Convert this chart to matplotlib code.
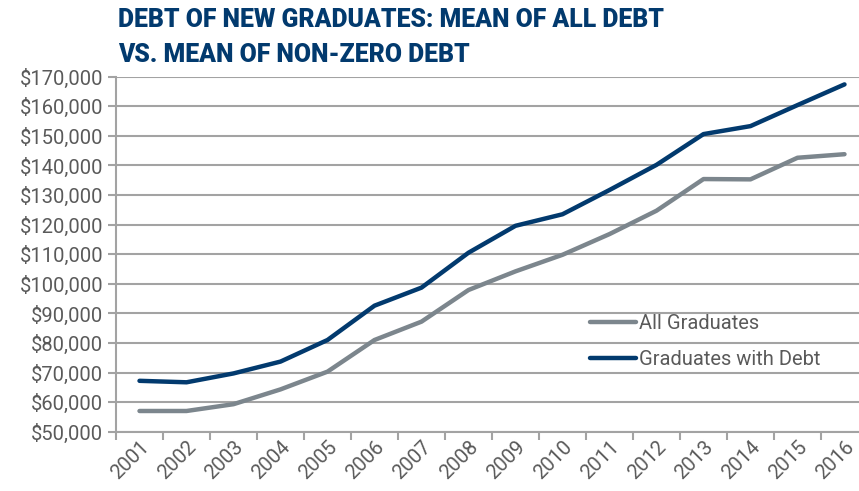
import matplotlib
matplotlib.use("Agg")
import matplotlib.pyplot as plt
from matplotlib.ticker import FuncFormatter, FixedLocator

years = ["2001", "2002", "2003", "2004", "2005", "2006", "2007", "2008",
         "2009", "2010", "2011", "2012", "2013", "2014", "2015", "2016"]
all_graduates = [57000, 57000, 59300, 64300, 70300, 81000, 87200, 97900,
                 104200, 109800, 116800, 124700, 135400, 135300, 142600, 143800]
with_debt = [67200, 66700, 69700, 73700, 81000, 92600, 98700, 110500,
             119600, 123500, 131700, 140200, 150600, 153300, 160400, 167400]
yticks = [50000, 60000, 70000, 80000, 90000, 100000, 110000, 120000,
          130000, 140000, 150000, 160000, 170000]

NAVY = "#023a6e"
GRAY = "#7c868d"
TXT = "#5a5a5a"
GRID = "#a3a3a3"

plt.rcParams['font.family'] = ['Roboto', 'DejaVu Sans']

fig = plt.figure(figsize=(8.59, 4.91), dpi=100)
ax = fig.add_axes([116/859, 1-431.7/491, 752/859, (431.7-76.7)/491])

x = list(range(len(years)))
ax.plot(x, all_graduates, color=GRAY, lw=3.2, solid_capstyle='round', label="All Graduates")
ax.plot(x, with_debt, color=NAVY, lw=3.2, solid_capstyle='round', label="Graduates with Debt")

ax.set_xlim(-0.5, len(years)-0.5)
ax.set_ylim(50000, 170000)
ax.set_yticks(yticks)
ax.yaxis.set_major_formatter(FuncFormatter(lambda v, p: "${:,.0f}".format(v)))
ax.grid(axis='y', color=GRID, lw=1.5)
ax.set_axisbelow(True)

ax.xaxis.set_major_locator(FixedLocator([i - 0.5 for i in range(len(years)+1)]))
ax.xaxis.set_major_formatter(FuncFormatter(lambda v, p: ""))
ax.xaxis.set_minor_locator(FixedLocator(x))
ax.set_xticklabels(years, minor=True)
ax.tick_params(axis='x', which='major', length=6, width=1.5, color=GRID, direction='out')
ax.tick_params(axis='x', which='minor', length=0, pad=4, labelsize=14.5, labelcolor=TXT)
for lbl in ax.get_xticklabels(minor=True):
    lbl.set_rotation(45)
    lbl.set_ha('right')
    lbl.set_rotation_mode('anchor')
ax.tick_params(axis='y', length=6, width=1.5, color=GRID, labelsize=14.5, labelcolor=TXT, pad=3)

for s in ['top', 'right']:
    ax.spines[s].set_visible(False)
for s in ['left', 'bottom']:
    ax.spines[s].set_color(GRID)
    ax.spines[s].set_linewidth(1.5)

leg = ax.legend(loc='upper left', bbox_to_anchor=((582-116)/752, 1-(306-76.7)/355),
                frameon=False, fontsize=14.5, handlelength=2.3, handletextpad=0.15,
                labelspacing=0.85, borderaxespad=0)
for t in leg.get_texts():
    t.set_color(TXT)

fig.text(118/859, 1-20/491, "DEBT OF NEW GRADUATES: MEAN OF ALL DEBT",
         fontsize=17.8, fontweight='heavy', color=NAVY, va='center', ha='left')
fig.text(118/859, 1-55/491, "VS. MEAN OF NON-ZERO DEBT",
         fontsize=17.8, fontweight='heavy', color=NAVY, va='center', ha='left')

fig.savefig("out.png", dpi=100)
